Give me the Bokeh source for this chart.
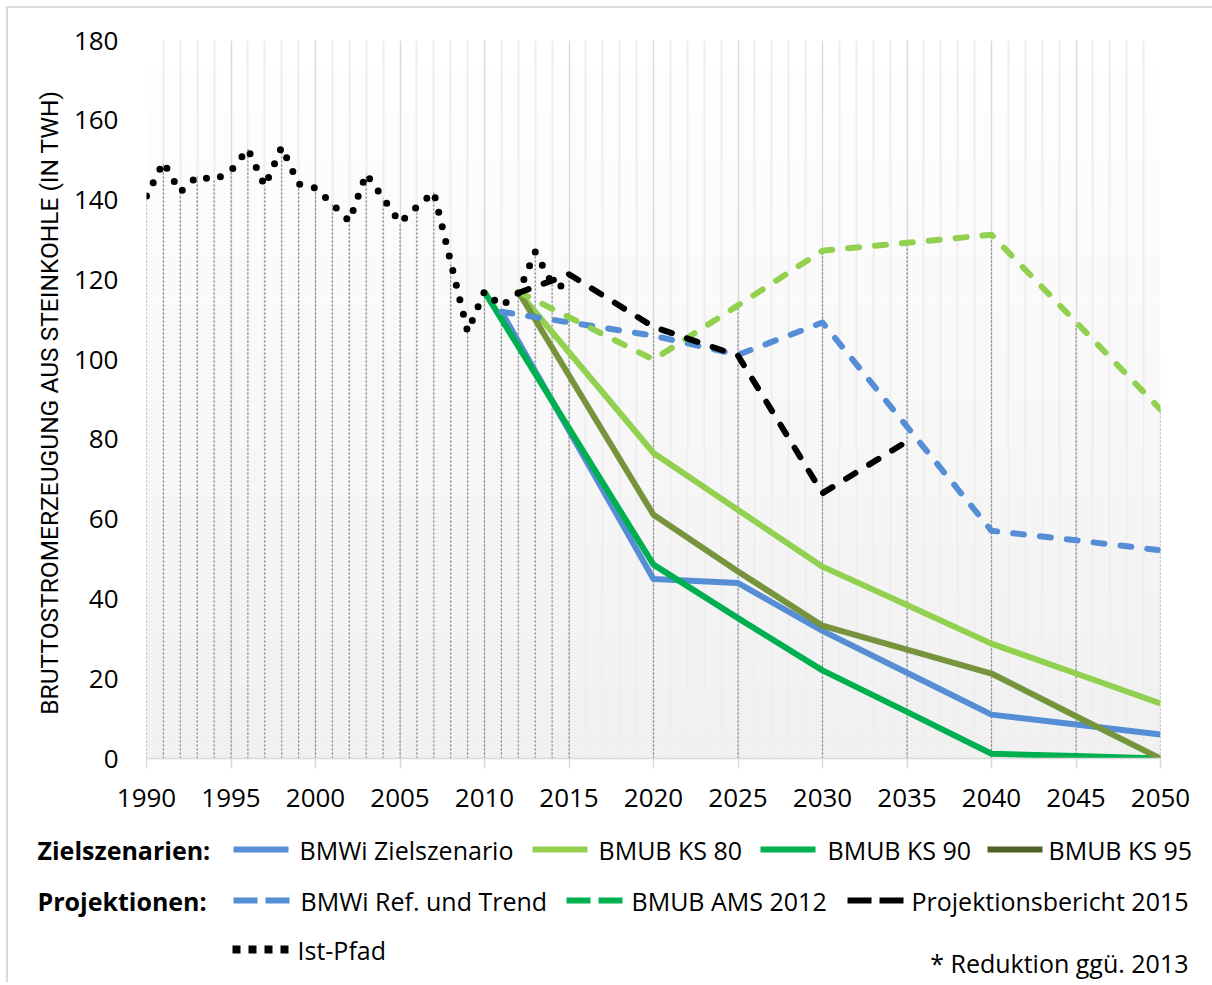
import numpy as np
from bokeh.plotting import figure
from bokeh.layouts import column
from bokeh.models import Range1d, FixedTicker
from bokeh.embed import file_html
from bokeh.resources import INLINE
from bokeh.core.properties import value

# ---------------- data ----------------
ist_years = list(range(1990, 2016))
ist_values = [141, 149.5, 142, 146, 145, 147.3, 152.8, 143.5, 153.3, 144, 143, 139, 134.7,
              146.6, 140.5, 134.3, 138.3, 142, 124.5, 107, 117.1, 113.4, 116.7, 127, 119, 118]

ziel_years = [2011, 2020, 2025, 2030, 2035, 2040, 2045, 2050]
ziel_values = [112, 45, 44, 32, 21.5, 11, 8.5, 6]
ks80_years = [2012, 2020, 2025, 2030, 2035, 2040, 2045, 2050]
ks80_values = [117, 76.6, 62.3, 48.1, 38.5, 28.8, 21.3, 13.8]
ks90_years = [2010, 2020, 2025, 2030, 2035, 2040, 2045, 2050]
ks90_values = [117, 48.6, 35.2, 22.1, 11.7, 1.2, 0.6, 0]
ks95_years = [2012, 2020, 2025, 2030, 2035, 2040, 2045, 2050]
ks95_values = [117, 61.1, 46.9, 33.3, 27.3, 21.3, 10.6, 0]
ref_years = [2011, 2020, 2025, 2030, 2035, 2040, 2045, 2050]
ref_values = [112, 106, 101.2, 109.3, 83.2, 57.1, 54.7, 52.2]
ams_years = [2012, 2020, 2025, 2030, 2035, 2040, 2045, 2050]
ams_values = [117, 100, 113.6, 127.3, 129.3, 131.3, 109.4, 87.5]
proj_years = [2012, 2015, 2020, 2025, 2030, 2035]
proj_values = [116.7, 121.4, 108.2, 101, 66.5, 79.5]

x_ticks = list(range(1990, 2051, 5))
y_ticks = list(range(0, 181, 20))

series = [
    # name, years, values, colour in plot, legend colour, kind
    ("BMWi Zielszenario", ziel_years, ziel_values, "#558ED5", "#558ED5", "solid"),
    ("BMUB KS 80", ks80_years, ks80_values, "#92D050", "#92D050", "solid"),
    ("BMUB KS 90", ks90_years, ks90_values, "#00B050", "#00B050", "solid"),
    ("BMUB KS 95", ks95_years, ks95_values, "#77933C", "#4F6228", "solid"),
    ("BMWi Ref. und Trend", ref_years, ref_values, "#558ED5", "#558ED5", "dash"),
    ("BMUB AMS 2012", ams_years, ams_values, "#92D050", "#00B050", "dash"),
    ("Projektionsbericht 2015", proj_years, proj_values, "#000000", "#000000", "dash"),
    ("Ist-Pfad", ist_years, ist_values, "#000000", "#000000", "dot"),
]

FONT = "Open Sans"

# ---------------- chart ----------------
W = 1212
H1 = 820
FL, FT, FR, FB = 146, 40, 1160, 758   # frame edges in page pixels
p = figure(width=W, height=H1, x_range=Range1d(1990, 2050), y_range=Range1d(0, 180),
           output_backend="svg", toolbar_location=None,
           min_border_left=FL, min_border_right=W - FR, min_border_top=FT, min_border_bottom=H1 - FB)
p.outline_line_color = None
p.background_fill_color = "white"
p.border_fill_alpha = 0

# gradient background (white at top -> light grey at bottom)
band_y = np.arange(0.5, 180, 1.0)
grey = (255 - np.round(15 * (1 - band_y / 180))).astype(int)
band_col = ["#%02x%02x%02x" % (g, g, g) for g in grey]
bg = p.hbar(y=band_y, height=1.05, left=1990, right=2050, fill_color=band_col, line_color=None)
bg.level = "image"

# grid
p.ygrid.visible = False
p.xgrid.ticker = FixedTicker(ticks=x_ticks, minor_ticks=list(range(1990, 2051)))
p.xgrid.grid_line_color = "#d9d9d9"
p.xgrid.grid_line_width = 1
p.xgrid.minor_grid_line_color = "#eeeeee"
p.xgrid.minor_grid_line_width = 2

# axes
p.xaxis.ticker = FixedTicker(ticks=x_ticks)
p.xaxis.axis_line_color = "#d9d9d9"
p.xaxis.axis_line_width = 1.5
p.xaxis.major_tick_line_color = "#d9d9d9"
p.xaxis.major_tick_line_width = 1.5
p.xaxis.major_tick_out = 10
p.xaxis.major_tick_in = 0
p.xaxis.minor_tick_line_color = None
p.xaxis.major_label_text_font = FONT
p.xaxis.major_label_text_font_size = "26px"
p.xaxis.major_label_text_color = "#000000"
p.xaxis.major_label_standoff = 20

p.yaxis.ticker = FixedTicker(ticks=y_ticks)
p.yaxis.axis_line_color = None
p.yaxis.major_tick_line_color = None
p.yaxis.minor_tick_line_color = None
p.yaxis.major_tick_out = 0
p.yaxis.major_tick_in = 0
p.yaxis.major_label_text_font = FONT
p.yaxis.major_label_text_font_size = "26px"
p.yaxis.major_label_text_color = "#000000"
p.yaxis.major_label_standoff = 28
p.yaxis.axis_label = "BRUTTOSTROMERZEUGUNG  AUS STEINKOHLE (IN TWH)"
p.yaxis.axis_label_text_font = "Roboto"
p.yaxis.axis_label_text_font_style = "normal"
p.yaxis.axis_label_text_font_size = "24.5px"
p.yaxis.axis_label_text_color = "#000000"
p.yaxis.axis_label_standoff = 7

# drop lines from the highest value at each data position
tops = {}
for _, xs, ys, _, _, _ in series:
    for xv, yv in zip(xs, ys):
        tops[xv] = max(tops.get(xv, 0), yv)
drop_x = sorted(tops)
drop_top = [tops[xv] for xv in drop_x]
p.segment(x0=drop_x, y0=[0] * len(drop_x), x1=drop_x, y1=drop_top,
          line_color="#808080", line_width=1.2, line_dash="2 2")

# series
for name, xs, ys, col, _, kind in series:
    if kind == "solid":
        p.line(xs, ys, line_color=col, line_width=6, line_join="round", line_cap="butt")
    elif kind == "dash":
        p.line(xs, ys, line_color=col, line_width=6, line_join="round", line_cap="round",
               line_dash="11 16")
    else:
        p.line(xs, ys, line_color=col, line_width=7, line_join="round", line_cap="round",
               line_dash="0 15")

# ---------------- legend panel (pixel coordinates, y downwards) ----------------
H2 = 162
lg = figure(width=W, height=H2, x_range=Range1d(0, W), y_range=Range1d(H1 + H2, H1),
            output_backend="svg", toolbar_location=None, min_border=0)
lg.axis.visible = False
lg.grid.visible = False
lg.outline_line_color = None
lg.background_fill_alpha = 0
lg.border_fill_alpha = 0

for fig in (p, lg):
    if "frame_align" in fig.properties():
        fig.frame_align = False

row_y = [849, 900, 949]
# (series index, row, swatch left x, text left x)
placements = [(0, 0, 233, 299), (1, 0, 532, 598), (2, 0, 760, 827), (3, 0, 987, 1048),
              (4, 1, 233, 300), (5, 1, 566, 631), (6, 1, 847, 911),
              (7, 2, 232, 297)]
for idx, row, sw, tx in placements:
    name, _, _, _, lcol, kind = series[idx]
    yy = row_y[row]
    if kind == "solid":
        lg.segment(x0=[sw], y0=[yy], x1=[sw + 55], y1=[yy], line_color=lcol, line_width=6,
                   line_cap="butt")
    elif kind == "dash":
        lg.segment(x0=[sw], y0=[yy], x1=[sw + 56], y1=[yy], line_color=lcol, line_width=6,
                   line_cap="butt", line_dash="24 8")
    else:
        lg.segment(x0=[sw], y0=[yy], x1=[sw + 56], y1=[yy], line_color=lcol, line_width=8,
                   line_cap="butt", line_dash="8 8")
    lg.text(x=[tx], y=[yy], text=[name], text_font=value(FONT), text_font_size="25px",
            text_baseline="middle", text_align="left", text_color="#000000")

lg.text(x=[37, 37], y=[row_y[0], row_y[1]], text=["Zielszenarien:", "Projektionen:"],
        text_font=value(FONT), text_font_size="25px", text_font_style="bold",
        text_baseline="middle", text_align="left", text_color="#000000")
lg.text(x=[1188], y=[962], text=["* Reduktion ggü. 2013"], text_font=value(FONT),
        text_font_size="25px", text_baseline="middle", text_align="right", text_color="#000000")

# light chart-area border on the left and top edges (drawn behind the transparent canvases)
layout = column(p, lg, spacing=0,
                styles={"background-color": "white",
                        "box-shadow": "inset 6px 6px 0 0 #ffffff, inset 8px 8px 0 0 #d9d9d9"})
open("out.html", "w").write(file_html(layout, INLINE))
